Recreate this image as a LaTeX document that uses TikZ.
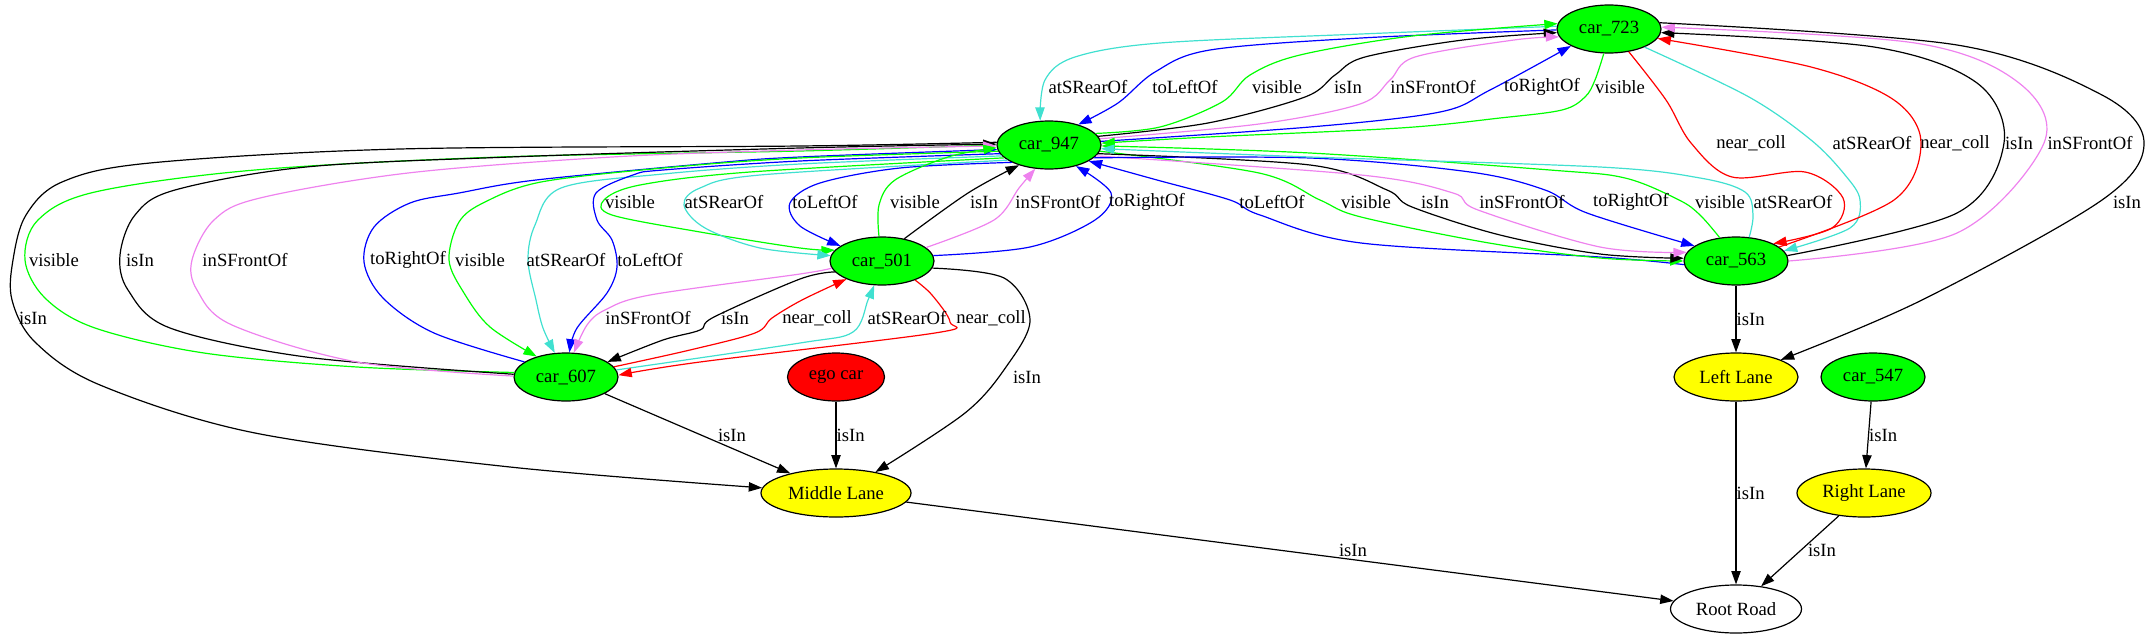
\documentclass[tikz,border=0pt]{standalone}
\usepackage{fontspec}
\setmainfont{Liberation Serif}
\usetikzlibrary{shapes.geometric,arrows.meta}
\definecolor{gvgreen}{RGB}{0,255,0}
\definecolor{gvblue}{RGB}{0,0,255}
\definecolor{gvred}{RGB}{255,0,0}
\definecolor{gvturq}{RGB}{64,224,208}
\definecolor{gvviolet}{RGB}{238,130,238}
\definecolor{gvyellow}{RGB}{255,255,0}
\begin{document}
\begin{tikzpicture}[x=0.75pt,y=-0.75pt,
  every node/.style={font=\fontsize{14pt}{16pt}\selectfont},
  gnode/.style={ellipse,draw=black,line width=0.9pt,inner sep=0pt,minimum height=36pt},
  car/.style={gnode,fill=gvgreen,minimum width=78pt},
  lane/.style={gnode,fill=gvyellow},
  edg/.style={line width=0.9pt,-{Triangle[length=10pt,width=7pt]}},
  ebk/.style={edg,color=black},
  egr/.style={edg,color=gvgreen},
  ebl/.style={edg,color=gvblue},
  ere/.style={edg,color=gvred},
  ecy/.style={edg,color=gvturq},
  evi/.style={edg,color=gvviolet},
  lbl/.style={inner sep=0pt,text=black},
  sm/.style={smooth,tension=0.55}
]
\useasboundingbox (0,0) rectangle (2151,639);

% nodes
\node[car] (n723) at (1609,29) {car\_723};
\node[car] (n947) at (1049,145) {car\_947};
\node[car] (n501) at (882,261) {car\_501};
\node[car] (n563) at (1736,261) {car\_563};
\node[car] (n607) at (566,377) {car\_607};
\node[gnode,fill=gvred,minimum width=72.75pt] (ego) at (836,377) {ego car};
\node[lane,minimum width=93pt] (ll) at (1736,377) {Left Lane};
\node[car] (n547) at (1873,377) {car\_547};
\node[lane,minimum width=112.5pt] (ml) at (836,493) {Middle Lane};
\node[lane,minimum width=100.5pt] (rl) at (1864,493) {Right Lane};
\node[gnode,fill=white,minimum width=98.25pt] (rr) at (1736,609) {Root Road};

% 723 <-> 947
\draw[ecy] plot[sm] coordinates {(n723.177) (1361,34) (1160,43) (1075,57) (1045,80) (n947.110)};
\draw[ebl] plot[sm] coordinates {(n723.181) (1361,38) (1210,50) (1155,72) (1118,103) (n947.35)};
\draw[egr] plot[sm] coordinates {(n947.14) (1160,127) (1222,102) (1250,75) (1300,55) (1412,36) (n723.174)};
\draw[ebk] plot[sm] coordinates {(n947.10) (1208,123) (1305,97) (1335,75) (1365,57) (1463,40) (n723.184)};
\draw[evi] plot[sm] coordinates {(n947.7) (1259,124) (1360,104) (1390,80) (1415,57) (1514,40) (n723.189)};
\draw[ebl] plot[sm] coordinates {(n947.4) (1310,127) (1440,112) (1490,90) (n723.204)};
\draw[egr] plot[sm] coordinates {(n723.258) (1595,80) (1585,97) (1562,110) (1500,118) (1400,128) (1208,137) (n947.2)};
\node[lbl] (l1) at (1088,87) {atSRearOf};
\node[lbl] (l2) at (1185,87) {toLeftOf};
\node[lbl] (l3) at (1277,87) {visible};
\node[lbl] (l4) at (1348,87) {isIn};
\node[lbl] (l5) at (1433,87) {inSFrontOf};
\node[lbl] (l6) at (1542,87) {toRightOf};
\node[lbl] (l7) at (1620,87) {visible};

% 947 <-> 563
\draw[ebl] plot[sm] coordinates {(n563.184) (1600,257) (1361,243) (1260,215) (1230,200) (1157,180) (n947.338)};
\draw[egr] plot[sm] coordinates {(n947.353) (1259,173) (1320,200) (1361,217) (1489,243) (1600,258) (n563.180)};
\draw[ebk] plot[sm] coordinates {(n947.350) (1310,165) (1387,190) (1412,207) (1500,235) (1600,254) (n563.177)};
\draw[evi] plot[sm] coordinates {(n947.347) (1361,175) (1453,193) (1478,210) (1600,247) (n563.170)};
\draw[ebl] plot[sm] coordinates {(n947.344) (1310,158) (1470,172) (1545,190) (1587,213) (n563.160)};
\draw[egr] plot[sm] coordinates {(n563.125) (1700,215) (1679,200) (1625,178) (1550,170) (1310,153) (n947.359)};
\draw[ecy] plot[sm] coordinates {(n563.61) (1753,215) (1745,192) (1700,178) (1600,167) (1310,157) (n947.356)};
\node[lbl] (l8) at (1272,202) {toLeftOf};
\node[lbl] (l9) at (1366,202) {visible};
\node[lbl] (l10) at (1435,202) {isIn};
\node[lbl] (l11) at (1522,202) {inSFrontOf};
\node[lbl] (l12) at (1631,202) {toRightOf};
\node[lbl] (l13) at (1720,202) {visible};
\node[lbl] (l14) at (1793,202) {atSRearOf};

% 723 <-> 563
\draw[ere] plot[sm] coordinates {(n723.311) (1666,100) (1691,143) (1732,177) (1805,172) (1843,198) (1832,228) (n563.25)};
\draw[ecy] plot[sm] coordinates {(n723.333) (1749,97) (1811,140) (1845,175) (1860,200) (1850,228) (n563.12)};
\draw[ere] plot[sm] coordinates {(n563.18) (1894,200) (1921,143) (1894,100) (1811,67) (n723.349)};
\draw[ebk] plot[sm] coordinates {(n563.6) (1957,213) (2004,143) (1977,83) (1874,47) (n723.356)};
\draw[evi] plot[sm] coordinates {(n563.0) (1957,233) (2044,143) (2019,83) (1915,43) (n723.2)};
\draw[ebk] plot[sm] coordinates {(n723.7) (1957,45) (2102,95) (2144,143) (2102,200) (1922,300) (ll.21)};
\node[lbl] (l15) at (1751,143) {near\_coll};
\node[lbl] (l16) at (1872,143) {atSRearOf};
\node[lbl] (l17) at (1955,143) {near\_coll};
\node[lbl] (l18) at (2019,143) {isIn};
\node[lbl] (l19) at (2090,143) {inSFrontOf};
\node[lbl] (l20) at (2127,202) {isIn};

% straight edges
\draw[ebk] (n563) -- (ll) node[lbl,pos=0.5,right=0pt] (l21) {isIn};
\draw[ebk] (ll) -- (rr) node[lbl,pos=0.5,right=0pt] (l22) {isIn};
\draw[ebk] (n547) -- (rl) node[lbl,pos=0.5,right=0pt] (l23) {isIn};
\draw[ebk] (rl) -- (rr);
\node[lbl] (l24) at (1822,550) {isIn};
\draw[ebk] (ml) -- (rr);
\node[lbl] (l25) at (1353,550) {isIn};
\draw[ebk] (ego) -- (ml) node[lbl,pos=0.5,right=0pt] (l26) {isIn};
\draw[ebk] (n607) -- (ml);
\node[lbl] (l27) at (732,435) {isIn};

% 501 -> Middle Lane, 947 -> Middle Lane
\draw[ebk] plot[sm] coordinates {(n501.352) (1004,278) (1030,320) (1006,367) (965,413) (ml.28)};
\node[lbl] (l28) at (1027,377) {isIn};
\draw[ebk] plot[sm] coordinates {(n947.177) (800,146) (400,149) (150,163) (62,182) (26,215) (13,260) (12,300) (35,342) (100,385) (255,433) (510,467) (ml.176)};
\node[lbl] (l29) at (33,318) {isIn};

% 607 <-> 947
\draw[egr] plot[sm] coordinates {(n607.175) (357,367) (204,353) (95,328) (45,298) (25,260) (38,220) (95,192) (255,170) (500,157) (800,151) (n947.180)};
\draw[ebk] plot[sm] coordinates {(n607.177) (306,357) (170,328) (128,290) (120,255) (135,215) (175,190) (306,167) (510,157) (800,148) (n947.179)};
\draw[evi] plot[sm] coordinates {(n607.179) (357,362) (232,325) (197,290) (192,260) (214,220) (260,198) (408,173) (612,157) (800,150) (n947.181)};
\draw[ebl] plot[sm] coordinates {(n607.160) (434,333) (383,298) (364,262) (374,227) (410,203) (459,193) (536,180) (714,163) (800,157) (n947.185)};
\draw[egr] plot[sm] coordinates {(n947.187) (800,158) (663,168) (541,182) (485,202) (459,222) (449,260) (464,293) (490,327) (n607.145)};
\draw[ecy] plot[sm] coordinates {(n947.193) (800,164) (663,174) (561,188) (535,225) (528,260) (536,300) (543,328) (n607.115)};
\draw[ebl] plot[sm] coordinates {(n947.190) (800,161) (663,170) (633,175) (596,193) (597,220) (612,240) (617,267) (607,293) (577,328) (n607.82)};
\node[lbl] (l30) at (54,260) {visible};
\node[lbl] (l31) at (140,260) {isIn};
\node[lbl] (l32) at (245,260) {inSFrontOf};
\node[lbl] (l33) at (408,260) {toRightOf};
\node[lbl] (l34) at (480,260) {visible};
\node[lbl] (l35) at (566,260) {atSRearOf};
\node[lbl] (l36) at (650,260) {toLeftOf};

% 947 <-> 501
\draw[egr] plot[sm] coordinates {(n947.196) (750,172) (640,185) (604,200) (612,215) (700,232) (800,248) (n501.167)};
\draw[ecy] plot[sm] coordinates {(n947.200) (760,175) (700,188) (684,205) (705,228) (760,248) (n501.174)};
\draw[ebl] plot[sm] coordinates {(n947.205) (900,168) (820,183) (790,203) (800,226) (n501.160)};
\draw[egr] plot[sm] coordinates {(n501.97) (879,205) (895,180) (948,157) (n947.183)};
\draw[ebk] plot[sm] coordinates {(n501.45) (968,193) (n947.214)};
\draw[evi] plot[sm] coordinates {(n501.17) (994,220) (1019,188) (n947.240)};
\draw[ebl] plot[sm] coordinates {(n501.6) (1030,247) (1095,220) (1111,193) (n947.322)};
\node[lbl] (l37) at (630,202) {visible};
\node[lbl] (l38) at (724,202) {atSRearOf};
\node[lbl] (l39) at (825,202) {toLeftOf};
\node[lbl] (l40) at (915,202) {visible};
\node[lbl] (l41) at (984,202) {isIn};
\node[lbl] (l42) at (1058,202) {inSFrontOf};
\node[lbl] (l43) at (1147,202) {toRightOf};

% 501 <-> 607
\draw[evi] plot[sm] coordinates {(n501.188) (800,274) (650,295) (605,310) (587,325) (n607.72)};
\draw[ebk] plot[sm] coordinates {(n501.193) (800,279) (714,317) (700,330) (663,340) (n607.20)};
\draw[ere] plot[sm] coordinates {(n607.12) (690,350) (755,333) (772,318) (802,300) (n501.207)};
\draw[ecy] plot[sm] coordinates {(n607.8) (800,343) (853,332) (868,300) (n501.252)};
\draw[ere] plot[sm] coordinates {(n501.330) (932,295) (950,322) (935,333) (700,362) (n607.2)};
\node[lbl] (l44) at (648,318) {inSFrontOf};
\node[lbl] (l45) at (735,318) {isIn};
\node[lbl] (l46) at (817,318) {near\_coll};
\node[lbl] (l47) at (907,318) {atSRearOf};
\node[lbl] (l48) at (991,318) {near\_coll};
\end{tikzpicture}
\end{document}
